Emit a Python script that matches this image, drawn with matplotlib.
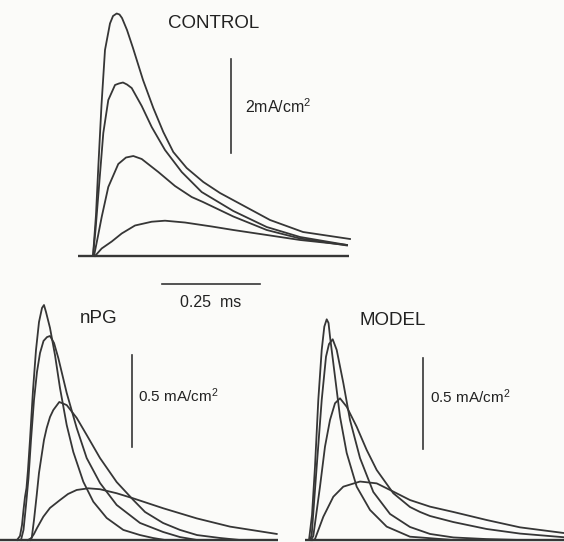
import matplotlib
matplotlib.use("Agg")
import matplotlib.pyplot as plt

plt.rcParams["font.family"] = ["Liberation Sans", "DejaVu Sans"]
plt.rcParams["mathtext.fontset"] = "custom"
plt.rcParams["mathtext.rm"] = "Liberation Sans"
plt.rcParams["mathtext.it"] = "Liberation Sans:italic"

# ---------------- CONTROL traces (time in ms, current in mA/cm^2) ----------------
ctl_t1 = [0, .0076, .0135, .0216, .0305, .0432, .0509, .0603, .0674, .0738, .0865, .1017,
          .1272, .1534, .1788, .2042, .2383, .2805, .3230, .3655, .4502, .5341, .6536]
ctl_i1 = [0, .878, 1.906, 3.233, 4.411, 4.979, 5.139, 5.193, 5.171, 5.096, 4.839, 4.454,
          3.769, 3.169, 2.655, 2.227, 1.884, 1.585, 1.349, 1.156, .771, .514, .364]
ctl_t2 = [0, .0064, .0135, .0262, .0389, .0560, .0661, .0763, .0865, .0984, .1239, .1493,
          .1831, .2256, .2764, .3568, .4418, .5265, .6460]
ctl_i2 = [0, .557, 1.306, 2.634, 3.340, 3.662, 3.694, 3.715, 3.672, 3.597, 3.212, 2.762,
          2.270, 1.799, 1.370, .964, .621, .407, .236]
ctl_t3 = [.0025, .0127, .0221, .0389, .0643, .0839, .1025, .1239, .1661, .2085, .2510, .2798,
          .3568, .4418, .5265, .6460]
ctl_i3 = [0, .428, .835, 1.478, 1.970, 2.109, 2.141, 2.077, 1.799, 1.499, 1.263, 1.156,
          .846, .557, .375, .225]
ctl_t4 = [.0051, .0221, .0476, .0730, .1068, .1493, .1831, .2340, .3019, .3568, .4418, .5265, .6460]
ctl_i4 = [0, .161, .310, .482, .653, .734, .756, .717, .632, .557, .450, .343, .236]
ctl_base_t = [-.038, .651]

# ---------------- nPG traces ----------------
npg_t1 = [-.0076, 0, .0051, .0089, .0127, .0165, .0203, .0254, .0331, .0407, .0483, .0560, .0610,
          .0661, .0763, .0890, .1017, .1188, .1356, .1610, .1864, .2205, .2627, .3052, .3383, .3688]
npg_i1 = [0, .022, .082, .164, .235, .284, .382, .546, .818, 1.037, 1.189, 1.266, 1.282,
          1.244, 1.157, 1.009, .829, .627, .480, .318, .209, .120, .055, .027, .011, 0]
npg_t2 = [.0025, .0089, .0153, .0216, .0280, .0356, .0432, .0509, .0598, .0687, .0763, .0865,
          .0974, .1188, .1442, .1696, .2035, .2459, .3052, .3637, .4069, .4502]
npg_i2 = [0, .055, .191, .338, .546, .764, .917, 1.020, 1.086, 1.107, 1.113, 1.075,
          .993, .802, .611, .447, .311, .191, .093, .044, .016, 0]
npg_t3 = [.0203, .0298, .0356, .0425, .0483, .0552, .0610, .0679, .0763, .0847, .0999, .1188,
          .1442, .1696, .2035, .2459, .2883, .3179, .3637, .4069, .4502, .5087, .5595]
npg_i3 = [0, .011, .109, .245, .366, .464, .546, .611, .671, .709, .753, .736,
          .666, .573, .447, .316, .218, .153, .093, .055, .027, .011, 0]
npg_t4 = [.0254, .0356, .0432, .0593, .0763, .1017, .1221, .1442, .1737, .2035, .2459, .2883,
          .3644, .4494, .5341, .6529]
npg_i4 = [0, .033, .065, .127, .175, .218, .251, .273, .282, .277, .255, .227,
          .173, .118, .073, .033]
npg_base_t = [-.051, .655]

# ---------------- MODEL traces ----------------
mod_t1 = [-.0025, .0051, .0127, .0211, .0298, .0364, .0425, .0471, .0509, .0636, .0763, .0933,
          .1187, .1526, .1950, .2543, .2798, .3637]
mod_i1 = [0, .136, .400, .764, 1.037, 1.164, 1.204, 1.184, 1.109, .891, .673, .475,
          .291, .164, .073, .018, .014, 0]
mod_t2 = [0, .0043, .0170, .0298, .0407, .0483, .0577, .0679, .0847, .1017, .1272, .1610,
          .2035, .2543, .3052, .3645, .4494, .5341]
mod_i2 = [0, .027, .400, .764, 1.000, 1.069, 1.095, 1.037, .857, .655, .447, .262,
          .142, .071, .033, .014, .005, 0]
mod_t3 = [.0025, .0084, .0254, .0381, .0509, .0636, .0763, .0933, .1187, .1442, .1696, .2119,
          .2543, .2798, .3052, .3645, .4494, .5341, .6460]
mod_i3 = [0, .022, .291, .509, .655, .746, .773, .727, .618, .491, .382, .255,
          .180, .153, .131, .098, .060, .035, .015]
mod_t4 = [.0076, .0127, .0339, .0593, .0847, .1272, .1696, .2119, .2543, .3052, .3645, .4494,
          .5341, .6460]
mod_i4 = [0, .005, .127, .236, .291, .319, .309, .264, .218, .182, .153, .109, .069, .038]
mod_base_t = [-.013, .648]

W, H = 564, 542
BG = "#fbfbf9"
INK = "#363636"
TXT = "#222222"

fig = plt.figure(figsize=(W / 100, H / 100), dpi=100, facecolor=BG)


def panel(px0, px1, py0, py1, x_org, y_org, px_ms, px_unit):
    """Axes spanning a pixel box, with time/current origin at (x_org, y_org)."""
    ax = fig.add_axes([px0 / W, 1 - py1 / H, (px1 - px0) / W, (py1 - py0) / H])
    ax.set_xlim((px0 - x_org) / px_ms, (px1 - x_org) / px_ms)
    ax.set_ylim((y_org - py1) / px_unit, (y_org - py0) / px_unit)
    ax.axis("off")
    ax.patch.set_alpha(0)
    return ax


def traces(ax, series, base_t, lw=1.3):
    ax.plot(base_t, [0, 0], color=INK, lw=1.7, solid_capstyle="butt", clip_on=False)
    for t, i in series:
        ax.plot(t, i, color=INK, lw=lw, solid_joinstyle="round", clip_on=False)


# CONTROL
ax_c = panel(60, 360, 0, 315, 93, 256, 393.2, 46.7)
traces(ax_c, [(ctl_t1, ctl_i1), (ctl_t2, ctl_i2), (ctl_t3, ctl_i3), (ctl_t4, ctl_i4)], ctl_base_t)
ax_c.plot([0.351, 0.351], [2.212, 4.212], color=INK, lw=1.2)
ax_c.plot([0.1747, 0.4247], [-0.60, -0.60], color=INK, lw=1.2)
ax_c.text(0.1907, 4.876, "CONTROL", fontsize=13.5, color=TXT, ha="left", va="baseline")
ax_c.text(0.3866, 3.069, "2mA/cm$^2$", fontsize=11.5, color=TXT, ha="left", va="baseline")
ax_c.text(0.2213, -1.086, "0.25  ms", fontsize=11.5, color=TXT, ha="left", va="baseline")

# nPG
ax_n = panel(0, 282, 295, 542, 20, 540, 393.2, 183.3)
traces(ax_n, [(npg_t1, npg_i1), (npg_t2, npg_i2), (npg_t3, npg_i3), (npg_t4, npg_i4)], npg_base_t)
ax_n.plot([0.2836, 0.2836], [0.509, 1.009], color=INK, lw=1.2)
ax_n.text(0.1526, 1.184, "nPG", fontsize=13.5, color=TXT, ha="left", va="baseline")
ax_n.text(0.300, 0.754, "0.5 mA/cm$^2$", fontsize=11, color=TXT, ha="left", va="baseline")

# MODEL
ax_m = panel(290, 564, 295, 542, 310, 540, 393.2, 183.3)
traces(ax_m, [(mod_t1, mod_i1), (mod_t2, mod_i2), (mod_t3, mod_i3), (mod_t4, mod_i4)], mod_base_t)
ax_m.plot([0.2866, 0.2866], [0.495, 0.995], color=INK, lw=1.2)
ax_m.text(0.127, 1.173, "MODEL", fontsize=13.5, color=TXT, ha="left", va="baseline")
ax_m.text(0.305, 0.746, "0.5 mA/cm$^2$", fontsize=11, color=TXT, ha="left", va="baseline")

fig.savefig("out.png", dpi=100, facecolor=BG)
